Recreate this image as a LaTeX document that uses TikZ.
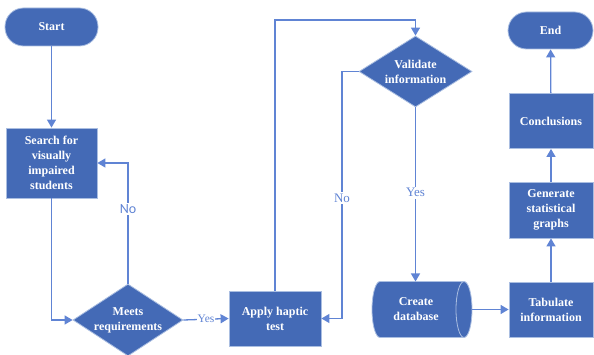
\documentclass[tikz,border=0pt]{standalone}
\usepackage{fontspec}
\setmainfont{Liberation Serif}
\newfontfamily\lblsans{Carlito}
\usetikzlibrary{arrows.meta,shapes.geometric,calc}
\definecolor{boxfill}{RGB}{68,106,182}
\definecolor{boxedge}{RGB}{170,190,225}
\definecolor{linkc}{RGB}{96,132,212}
\tikzset{
  x=1pt,y=-1pt,
  boxtext/.style={text=white,font=\fontsize{12}{15}\selectfont\bfseries,align=center},
  procbox/.style={rectangle,fill=boxfill,draw=boxedge,line width=0.8pt,boxtext,inner sep=0pt},
  termbox/.style={rectangle,rounded corners=18.5pt,fill=boxfill,draw=boxedge,line width=0.8pt,boxtext,inner sep=0pt},
  decbox/.style={diamond,fill=boxfill,draw=boxedge,line width=0.8pt,inner sep=0pt},
  link/.style={draw=linkc,line width=1.3pt,-{Triangle[width=9pt,length=8pt]}},
  lbl/.style={fill=white,text=linkc,inner sep=1.5pt},
}
\begin{document}
\begin{tikzpicture}
\useasboundingbox (0,0) rectangle (594,355);
% nodes
\node[termbox,minimum width=93,minimum height=38] (start) at (51.5,27) {Start};
\node[procbox,minimum width=91,minimum height=70] (search) at (51.5,163) {Search for\\visually\\impaired\\students};
\node[decbox,minimum width=110,minimum height=72] (meets) at (128,320) {};
\node[boxtext] (meetst) at (meets.center) {Meets\\requirements};
\node[procbox,minimum width=92,minimum height=55] (apply) at (275,318.5) {Apply haptic\\test};
\node[decbox,minimum width=113,minimum height=71] (valid) at (415.5,71.5) {};
\node[boxtext] (validt) at (valid.center) {Validate\\information};
% database (horizontal cylinder)
\node[minimum width=100,minimum height=56,inner sep=0pt] (db) at (422,309.5) {};
\fill[boxfill,draw=boxedge,line width=0.8pt]
  (380,281.5) -- (464,281.5)
  .. controls (468.4,281.5) and (472,294) .. (472,309.5)
  .. controls (472,325) and (468.4,337.5) .. (464,337.5)
  -- (380,337.5)
  .. controls (375.6,337.5) and (372,325) .. (372,309.5)
  .. controls (372,294) and (375.6,281.5) .. (380,281.5) -- cycle;
\draw[boxedge,line width=0.8pt] (464,281.5)
  .. controls (459.6,281.5) and (456,294) .. (456,309.5)
  .. controls (456,325) and (459.6,337.5) .. (464,337.5);
\node[boxtext] (dbt) at (416,309.5) {Create\\database};
\node[procbox,minimum width=84,minimum height=55] (tab) at (551,309.5) {Tabulate\\information};
\node[procbox,minimum width=84,minimum height=56] (gen) at (551,210) {Generate\\statistical\\graphs};
\node[procbox,minimum width=84,minimum height=55] (conc) at (551,121) {Conclusions};
\node[termbox,minimum width=85,minimum height=37] (end) at (550.5,30.5) {End};
% connectors
\coordinate (dbr) at (472,309.5);
\coordinate (dbt2) at (415.5,281.5);
\draw[link] (start) -- (search);
\draw[link] (search.south) |- (meets.west);
\draw[link] (meets.north) |- (search.east) node[pos=0.31,lbl,font=\lblsans\fontsize{14}{14}\selectfont] {No};
\draw[link] (meets.east) -- (apply.west) node[midway,lbl,font=\fontsize{11.5}{11.5}\selectfont,inner sep=0.5pt] {Yes};
\coordinate (topl) at (275,20);
\draw[link] (apply.north) -- (topl) -| (valid.north);
\coordinate (nol) at (342,71.5);
\draw[link] (valid.west) -- (nol) |- (apply.east) node[pos=0.256,lbl,font=\fontsize{13}{13}\selectfont] {No};
\draw[link] (valid.south) -- (dbt2) node[pos=0.49,lbl,font=\fontsize{13}{13}\selectfont] {Yes};
\draw[link] (dbr) -- (tab.west);
\draw[link] (tab) -- (gen);
\draw[link] (gen) -- (conc);
\draw[link] (conc) -- (end);
\end{tikzpicture}
\end{document}
